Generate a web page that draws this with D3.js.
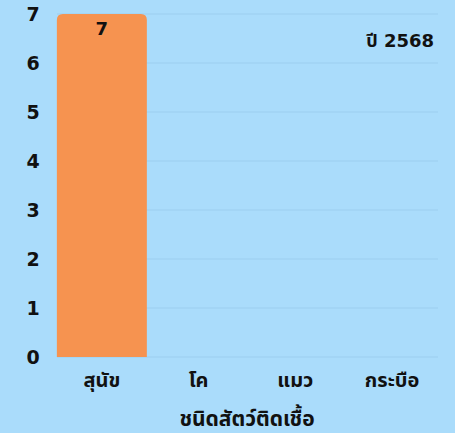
<!DOCTYPE html>
<html><head><meta charset="utf-8">
<script src="https://cdn.jsdelivr.net/npm/d3@7"></script>
<style>html,body{margin:0;padding:0;background:#aadcfb;}</style>
</head><body>
<svg id="c" width="455" height="433"></svg>
<script>
const categories = ["สุนัข", "โค", "แมว", "กระบือ"];
const values = [7, 0, 0, 0];
const yTicks = [0, 1, 2, 3, 4, 5, 6, 7];
const yearLabel = "ปี 2568";
const xTitle = "ชนิดสัตว์ติดเชื้อ";

const font = "'DejaVu Sans', 'Noto Sans Thai', 'Noto Sans', sans-serif";
const svg = d3.select("#c");
svg.append("rect").attr("width",455).attr("height",433).attr("fill","#aadcfb");

const x = d3.scaleBand().domain(categories).range([53,441]).paddingInner(0.07).paddingOuter(0.04);
const y = d3.scaleLinear().domain([0,7]).range([357,14]);

// gridlines
svg.append("g").selectAll("line").data(yTicks).join("line")
  .attr("x1",57).attr("x2",438)
  .attr("y1",d=>y(d)).attr("y2",d=>y(d))
  .attr("stroke","#9bcdef").attr("stroke-width",1.2);

// y labels
svg.append("g").selectAll("text").data(yTicks).join("text")
  .attr("x",33).attr("y",d=>y(d)+7)
  .attr("text-anchor","middle")
  .attr("font-family",font).attr("font-weight","bold").attr("font-size",19)
  .attr("fill","#111").text(d=>d);

// bars with rounded top
const r = 6;
svg.append("g").selectAll("path").data(categories.map((c,i)=>({c,v:values[i]})).filter(d=>d.v>0)).join("path")
  .attr("fill","#f69350")
  .attr("d",d=>{
    const x0=x(d.c), w=x.bandwidth(), y0=y(d.v), y1=y(0);
    return `M${x0},${y1}V${y0+r}Q${x0},${y0} ${x0+r},${y0}H${x0+w-r}Q${x0+w},${y0} ${x0+w},${y0+r}V${y1}Z`;
  });

// value labels
svg.append("g").selectAll("text").data(categories.map((c,i)=>({c,v:values[i]})).filter(d=>d.v>0)).join("text")
  .attr("x",d=>x(d.c)+x.bandwidth()/2).attr("y",d=>y(d.v)+21)
  .attr("text-anchor","middle")
  .attr("font-family",font).attr("font-weight","bold").attr("font-size",18)
  .attr("fill","#111").text(d=>d.v);

// x labels
svg.append("g").selectAll("text").data(categories).join("text")
  .attr("x",d=>x(d)+x.bandwidth()/2).attr("y",387)
  .attr("text-anchor","middle")
  .attr("font-family",font).attr("font-weight","bold").attr("font-size",20)
  .attr("fill","#111").text(d=>d);

svg.append("text").attr("x",247).attr("y",426).attr("text-anchor","middle")
  .attr("font-family",font).attr("font-weight","bold").attr("font-size",21)
  .attr("fill","#111").text(xTitle);

svg.append("text").attr("x",434).attr("y",47).attr("text-anchor","end")
  .attr("font-family",font).attr("font-weight","bold").attr("font-size",18)
  .attr("fill","#111").text(yearLabel);
</script>
</body></html>
